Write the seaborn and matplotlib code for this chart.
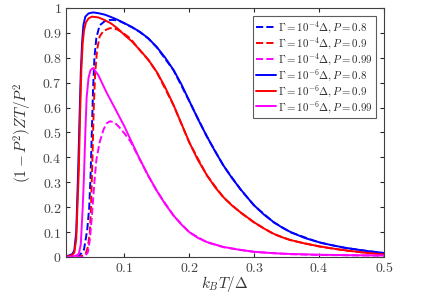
import numpy as np
import pandas as pd
import seaborn as sns
import matplotlib.pyplot as plt

# Gamma = 1e-6 Delta (solid lines)
x_s08 = [0.01, 0.015, 0.02, 0.023, 0.026, 0.029, 0.031, 0.033, 0.035, 0.037, 0.04, 0.045, 0.052, 0.06, 0.07,
         0.08, 0.09, 0.1, 0.112, 0.124, 0.137, 0.15, 0.163, 0.176, 0.188, 0.2, 0.213, 0.227, 0.24, 0.253,
         0.266, 0.279, 0.29, 0.3, 0.315, 0.33, 0.343, 0.356, 0.378, 0.4, 0.418, 0.44, 0.47, 0.5]
y_s08 = [0.003, 0.006, 0.012, 0.025, 0.1, 0.35, 0.55, 0.74, 0.86, 0.93, 0.965, 0.978, 0.982, 0.979, 0.973,
         0.963, 0.952, 0.939, 0.923, 0.904, 0.878, 0.843, 0.8, 0.75, 0.693, 0.627, 0.556, 0.485, 0.423, 0.366,
         0.316, 0.272, 0.237, 0.207, 0.17, 0.14, 0.118, 0.1, 0.076, 0.059, 0.048, 0.037, 0.025, 0.016]
x_s09 = [0.01, 0.015, 0.02, 0.023, 0.026, 0.03, 0.032, 0.034, 0.036, 0.038, 0.041, 0.045, 0.05, 0.06, 0.07,
         0.08, 0.09, 0.1, 0.112, 0.124, 0.137, 0.15, 0.163, 0.176, 0.188, 0.2, 0.213, 0.227, 0.24, 0.253,
         0.266, 0.279, 0.29, 0.3, 0.315, 0.33, 0.343, 0.356, 0.378, 0.4, 0.418, 0.44, 0.47, 0.5]
y_s09 = [0.002, 0.004, 0.008, 0.018, 0.07, 0.35, 0.58, 0.76, 0.86, 0.91, 0.942, 0.958, 0.965, 0.962, 0.951,
         0.937, 0.917, 0.892, 0.865, 0.831, 0.792, 0.743, 0.681, 0.609, 0.535, 0.461, 0.391, 0.329, 0.279, 0.239,
         0.206, 0.179, 0.158, 0.139, 0.114, 0.093, 0.079, 0.068, 0.054, 0.043, 0.035, 0.027, 0.017, 0.01]
x_s099 = [0.01, 0.02, 0.026, 0.03, 0.033, 0.036, 0.038, 0.04, 0.042, 0.045, 0.048, 0.052, 0.06, 0.073, 0.087,
          0.1, 0.112, 0.124, 0.137, 0.15, 0.163, 0.176, 0.188, 0.2, 0.213, 0.227, 0.253, 0.279, 0.3, 0.33,
          0.356, 0.4, 0.45, 0.5]
y_s099 = [0.0, 0.002, 0.006, 0.012, 0.05, 0.2, 0.33, 0.5, 0.64, 0.72, 0.75, 0.759, 0.73, 0.659, 0.59,
          0.525, 0.458, 0.392, 0.326, 0.266, 0.212, 0.166, 0.13, 0.1, 0.077, 0.06, 0.04, 0.028, 0.021, 0.015,
          0.012, 0.009, 0.007, 0.006]

# Gamma = 1e-4 Delta (dashed lines)
x_d08 = [0.01, 0.03, 0.038, 0.043, 0.046, 0.048, 0.05, 0.052, 0.054, 0.057, 0.062, 0.07, 0.078, 0.086, 0.093,
         0.1, 0.112, 0.124, 0.137, 0.15, 0.176, 0.2, 0.227, 0.253, 0.279, 0.3, 0.33, 0.356, 0.4, 0.44, 0.5]
y_d08 = [0.0, 0.002, 0.03, 0.11, 0.2, 0.32, 0.5, 0.68, 0.8, 0.88, 0.93, 0.947, 0.952, 0.951, 0.947,
         0.938, 0.922, 0.903, 0.877, 0.842, 0.749, 0.626, 0.484, 0.365, 0.271, 0.206, 0.139, 0.099, 0.058,
         0.036, 0.015]
x_d09 = [0.01, 0.03, 0.04, 0.044, 0.047, 0.049, 0.051, 0.053, 0.055, 0.058, 0.062, 0.068, 0.078, 0.088,
         0.098, 0.109, 0.124, 0.137, 0.15, 0.176, 0.2, 0.227, 0.253, 0.279, 0.3, 0.33, 0.356, 0.4, 0.44, 0.5]
y_d09 = [0.0, 0.0, 0.01, 0.04, 0.1, 0.22, 0.4, 0.6, 0.73, 0.83, 0.885, 0.908, 0.919, 0.915,
         0.9, 0.878, 0.83, 0.791, 0.742, 0.608, 0.46, 0.328, 0.238, 0.178, 0.138, 0.092, 0.067, 0.042,
         0.026, 0.009]
x_d099 = [0.01, 0.035, 0.04, 0.044, 0.047, 0.05, 0.054, 0.057, 0.062, 0.068, 0.073, 0.078, 0.085, 0.092,
          0.1, 0.11, 0.124, 0.137, 0.15, 0.176, 0.2, 0.227, 0.253, 0.3, 0.356, 0.4, 0.5]
y_d099 = [0.0, 0.0, 0.004, 0.02, 0.07, 0.16, 0.3, 0.39, 0.46, 0.512, 0.537, 0.545, 0.54, 0.522,
          0.497, 0.462, 0.391, 0.325, 0.265, 0.165, 0.099, 0.059, 0.039, 0.02, 0.011, 0.008, 0.005]

series = [
    (x_d08, y_d08, "blue", "--", r"$\Gamma=10^{-4}\Delta,P=0.8$"),
    (x_d09, y_d09, "red", "--", r"$\Gamma=10^{-4}\Delta,P=0.9$"),
    (x_d099, y_d099, "magenta", "--", r"$\Gamma=10^{-4}\Delta,P=0.99$"),
    (x_s08, y_s08, "blue", "-", r"$\Gamma=10^{-6}\Delta,P=0.8$"),
    (x_s09, y_s09, "red", "-", r"$\Gamma=10^{-6}\Delta,P=0.9$"),
    (x_s099, y_s099, "magenta", "-", r"$\Gamma=10^{-6}\Delta,P=0.99$"),
]

sns.set_style("ticks")
plt.rcParams["mathtext.fontset"] = "cm"
plt.rcParams["font.family"] = ["DejaVu Serif"]

fig = plt.figure(figsize=(4.36, 2.94), dpi=100)
ax = fig.add_axes([0.151, 0.126, 0.730, 0.847])

for xs, ys, c, ls, lab in series:
    df = pd.DataFrame({"x": xs, "y": ys})
    sns.lineplot(ax=ax, data=df, x="x", y="y", color=c, linestyle=ls, linewidth=1.4,
                 label=lab, sort=False, estimator=None)

ax.set_xlim(0.01, 0.5)
ax.set_ylim(0, 1)
xt = [0.1, 0.2, 0.3, 0.4, 0.5]
yt = [0, 0.1, 0.2, 0.3, 0.4, 0.5, 0.6, 0.7, 0.8, 0.9, 1]
ax.set_xticks(xt)
ax.set_xticklabels([f"${v:g}$" for v in xt])
ax.set_yticks(yt)
ax.set_yticklabels([f"${v:g}$" for v in yt])
ax.tick_params(direction="in", top=True, right=True, length=3, labelsize=10,
               colors="#262626", labelcolor="#444444", pad=3)
for s in ax.spines.values():
    s.set_color("#404040")
    s.set_linewidth(0.8)
ax.set_xlabel(r"$k_BT/\Delta$", fontsize=11, color="#333333", labelpad=-1)
ax.set_ylabel(r"$(1-P^2)ZT/P^2$", fontsize=11, color="#333333", labelpad=6)

leg = ax.legend(loc="upper right", fontsize=7.8, frameon=True, fancybox=False,
                handlelength=1.8, handletextpad=0.25, borderpad=0.3, labelspacing=0.0,
                borderaxespad=0.75)
leg.get_frame().set_edgecolor("#333333")
leg.get_frame().set_linewidth(0.8)

fig.savefig("out.png", dpi=100)
